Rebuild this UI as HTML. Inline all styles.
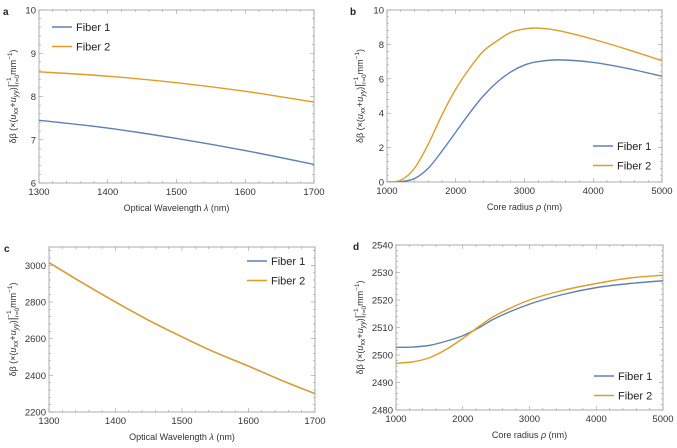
<!DOCTYPE html>
<html><head><meta charset="utf-8"><style>
html,body{margin:0;padding:0;background:#fff;}
svg{display:block;font-family:"Liberation Sans",sans-serif;}
</style></head><body>
<svg id="fig" width="677" height="448" viewBox="0 0 677 448"></svg>
<script>
const aX=[1300,1400,1500,1600,1700];
const aF1=[7.45,7.27,7.03,6.75,6.43];
const aF2=[8.57,8.47,8.32,8.12,7.87];
const bX=[1000,1200,1400,1600,1800,2000,2200,2400,2600,2800,3000,3200,3500,4000,4500,5000];
const bF1=[0,0.02,0.2,0.8,1.8,2.9,4.0,5.0,5.8,6.4,6.8,7.0,7.1,6.95,6.6,6.15];
const bF2=[0,0.1,0.8,2.2,3.9,5.4,6.6,7.6,8.2,8.7,8.9,8.95,8.8,8.3,7.7,7.05];
const cX=[1300,1350,1400,1450,1500,1550,1600,1650,1700];
const cF1=[3015,2905,2800,2700,2610,2525,2450,2372,2300];
const cF2=[3015,2905,2800,2700,2610,2525,2450,2372,2300];
const dX=[1000,1250,1500,1750,2000,2250,2500,3000,3500,4000,4500,5000];
const dF1=[2502.8,2502.9,2503.5,2505,2507,2510,2513.5,2518.5,2522,2524.5,2526,2527];
const dF2=[2497,2497.5,2499,2502,2506,2510.5,2514.5,2520,2523.5,2526,2528,2529];
const aYTicks=[6,7,8,9,10], aXTicks=[1300,1400,1500,1600,1700];
const bYTicks=[0,2,4,6,8,10], bXTicks=[1000,2000,3000,4000,5000];
const cYTicks=[2200,2400,2600,2800,3000], cXTicks=[1300,1400,1500,1600,1700];
const dYTicks=[2480,2490,2500,2510,2520,2530,2540], dXTicks=[1000,2000,3000,4000,5000];
const seriesNames=["Fiber 1","Fiber 2"];

const NS="http://www.w3.org/2000/svg";
const svg=document.getElementById('fig');
const BLUE="#5e81b5", ORANGE="#e19c24";
function mk(tag,attrs,parent){const e=document.createElementNS(NS,tag);for(const k in attrs)e.setAttribute(k,attrs[k]);(parent||svg).appendChild(e);return e;}
function path(pts){let d="M"+pts[0][0]+","+pts[0][1];
 for(let i=0;i<pts.length-1;i++){const p0=pts[Math.max(i-1,0)],p1=pts[i],p2=pts[i+1],p3=pts[Math.min(i+2,pts.length-1)];
  const c1=[p1[0]+(p2[0]-p0[0])/6,p1[1]+(p2[1]-p0[1])/6],c2=[p2[0]-(p3[0]-p1[0])/6,p2[1]-(p3[1]-p1[1])/6];
  d+=" C"+c1[0]+","+c1[1]+" "+c2[0]+","+c2[1]+" "+p2[0]+","+p2[1];}return d;}
function panel(o){
 const g=mk('g',{});
 
 
 const sx=v=>o.x0+(v-o.xmin)/(o.xmax-o.xmin)*(o.x1-o.x0);
 const sy=v=>o.y1-(v-o.ymin)/(o.ymax-o.ymin)*(o.y1-o.y0);
 const fr=mk('rect',{x:o.x0,y:o.y0,width:o.x1-o.x0,height:o.y1-o.y0,fill:'none',stroke:'#999','stroke-width':0.8},g);
 
 
 const xs=(o.xt[1]-o.xt[0])/5, ys=(o.yt[1]-o.yt[0])/5;
 for(let v=o.xmin;v<=o.xmax+1e-6;v+=xs){const X=sx(v),maj=Math.abs(((v-o.xt[0])/(o.xt[1]-o.xt[0]))%1)<1e-6;const L=maj?4:2;
  mk('line',{x1:X,x2:X,y1:o.y1,y2:o.y1-L,stroke:'#999','stroke-width':0.6},g);mk('line',{x1:X,x2:X,y1:o.y0,y2:o.y0+L,stroke:'#999','stroke-width':0.6},g);}
 for(let v=o.ymin;v<=o.ymax+1e-6;v+=ys){const Y=sy(v),r=((v-o.yt[0])/(o.yt[1]-o.yt[0]))%1,maj=Math.abs(r)<1e-6||Math.abs(r-1)<1e-6;const L=maj?4:2;
  mk('line',{x1:o.x0,x2:o.x0+L,y1:Y,y2:Y,stroke:'#999','stroke-width':0.6},g);mk('line',{x1:o.x1,x2:o.x1-L,y1:Y,y2:Y,stroke:'#999','stroke-width':0.6},g);}
 o.xt.forEach(v=>{const t=mk('text',{x:sx(v),y:o.y1+12,'font-size':9.5,'text-anchor':'middle',fill:'#333'},g);t.textContent=v;
  
  });
 o.yt.forEach(v=>{const t=mk('text',{x:o.x0-3,y:sy(v)+3.5,'font-size':9.5,'text-anchor':'end',fill:'#333'},g);t.textContent=v;
  
  });
 const xl=mk('text',{x:(o.x0+o.x1)/2,y:o.y1+28,'font-size':9,'text-anchor':'middle',fill:'#333'},g);
 xl.innerHTML=o.xlabel;
 
 
 const cy=(o.y0+o.y1)/2;
 const yl=mk('text',{x:o.ylx,y:cy,'font-size':9,'text-anchor':'middle',fill:'#333',transform:'rotate(-90 '+o.ylx+' '+cy+')'},g);
 yl.innerHTML='δβ (×(<tspan font-style="italic">u</tspan><tspan font-size="7" dy="2">xx</tspan><tspan dy="-2">+</tspan><tspan font-style="italic">u</tspan><tspan font-size="7" dy="2" font-style="italic">yy</tspan><tspan dy="-2">)</tspan><tspan font-size="11">|</tspan><tspan font-size="6.5" dy="3">r=0</tspan><tspan font-size="6.5" dx="-10" dy="-8">−1</tspan><tspan dy="5"> mm</tspan><tspan font-size="6.5" dy="-4">−1</tspan><tspan dy="4">)</tspan>';
 
 
 const lab=mk('text',{x:o.labx,y:o.y0+5,'font-size':10,'font-weight':'bold',fill:'#222'},g);lab.textContent=o.id;
 
 
 const clip=mk('clipPath',{id:'clip'+o.id},g);mk('rect',{x:o.x0,y:o.y0,width:o.x1-o.x0,height:o.y1-o.y0},clip);
 [[o.f1,BLUE,'fiber-1-line'],[o.f2,ORANGE,'fiber-2-line']].forEach(([arr,col,nm])=>{
  const p=mk('path',{d:path(o.xs.map((x,i)=>[sx(x),sy(arr[i])])),fill:'none',stroke:col,'stroke-width':1.4,'clip-path':'url(#clip'+o.id+')'},g);
  
  });
 [[BLUE,0],[ORANGE,1]].forEach(([col,i])=>{const Y=o.leg[1]+i*19.5;
  const lg=mk('g',{},g);
  
  
  mk('line',{x1:o.leg[0],x2:o.leg[0]+20,y1:Y,y2:Y,stroke:col,'stroke-width':1.5},lg);
  const t=mk('text',{x:o.leg[0]+24,y:Y+4,'font-size':11,fill:'#222'},lg);t.textContent=seriesNames[i];});
}
panel({id:'a',x0:39,x1:314,y0:10,y1:183,xmin:1300,xmax:1700,ymin:6,ymax:10,xt:aXTicks,yt:aYTicks,xs:aX,f1:aF1,f2:aF2,
 xlabel:'Optical Wavelength <tspan font-style="italic">λ</tspan> (nm)',ylx:16,labx:3,leg:[52,27]});
panel({id:'b',x0:387,x1:662,y0:10,y1:182,xmin:1000,xmax:5000,ymin:0,ymax:10,xt:bXTicks,yt:bYTicks,xs:bX,f1:bF1,f2:bF2,
 xlabel:'Core radius <tspan font-style="italic">ρ</tspan> (nm)',ylx:363,labx:350,leg:[593,146]});
panel({id:'c',x0:49,x1:315,y0:247,y1:412,xmin:1300,xmax:1700,ymin:2200,ymax:3100,xt:cXTicks,yt:cYTicks,xs:cX,f1:cF1,f2:cF2,
 xlabel:'Optical Wavelength <tspan font-style="italic">λ</tspan> (nm)',ylx:16,labx:4,leg:[247,261]});
panel({id:'d',x0:396,x1:663,y0:245,y1:410,xmin:1000,xmax:5000,ymin:2480,ymax:2540,xt:dXTicks,yt:dYTicks,xs:dX,f1:dF1,f2:dF2,
 xlabel:'Core radius <tspan font-style="italic">ρ</tspan> (nm)',ylx:363,labx:353,leg:[594,376]});
</script>
</body></html>
